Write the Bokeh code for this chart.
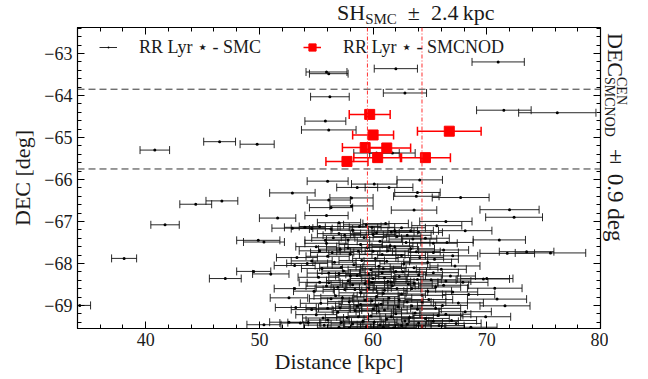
import math
from bokeh.plotting import figure
from bokeh.models import (ColumnDataSource, Span, LinearAxis, Range1d, Legend,
                          LegendItem, FixedTicker, CustomJSTickFormatter, Div)
from bokeh.layouts import column, row
from bokeh.embed import file_html
from bokeh.resources import INLINE

# ---------------- data ----------------
smc_dist = [
    55.9, 56.1, 62.0, 71.0, 56.2, 62.8, 71.5, 76.2, 55.8, 56.1, 46.5, 49.8, 40.8, 60.3, 61.7, 56.0, 64.1,
    52.9, 46.7, 44.4, 56.1, 56.3, 55.9, 51.6, 41.7, 52.9, 54.0, 54.6, 55.3, 57.0, 50.4, 49.9, 55.9, 56.5,
    57.8, 55.3, 56.4, 38.1, 53.3, 54.2, 53.1, 54.6, 49.5, 51.0, 47.0, 53.1, 52.6, 53.2, 54.6, 50.4, 52.6,
    53.6, 54.3, 34.2,
    60.1, 58.6, 61.4, 63.9, 63.8, 67.7, 58.1, 58.1, 63.6, 72.0, 72.4, 66.4, 68.1, 61.6, 63.3, 71.1, 66.5,
    65.3, 73.5, 71.8, 75.6, 60.0, 65.4, 69.7, 70.0, 70.7, 66.4, 71.6, 70.9, 69.9,
    57.0, 58.2, 59.4, 60.3, 61.1, 62.5, 64.0, 65.6, 56.3, 59.9,
    55.8, 57.5, 58.9, 59.2, 60.6, 61.5, 62.1, 62.9, 63.5, 60.0,
    56.0, 57.1, 58.0, 59.5, 60.2, 61.3, 62.5, 63.3, 64.1, 65.3, 66.2,
    55.5, 56.6, 57.4, 58.3, 59.0, 59.8, 60.5, 61.2, 62.0, 62.7, 63.6, 64.8, 66.0, 67.2,
    55.2, 56.1, 57.0, 57.8, 58.6, 59.3, 60.0, 60.8, 61.6, 62.3, 63.1, 64.0, 65.1, 66.8, 67.9,
    54.8, 55.9, 56.7, 57.5, 58.2, 58.9, 59.6, 60.3, 61.0, 61.7, 62.5, 63.4, 64.3, 65.5, 67.0, 68.4,
    55.4, 56.3, 57.1, 57.9, 58.6, 59.3, 60.0, 60.7, 61.4, 62.2, 63.0, 63.9, 64.9, 66.1, 67.5,
    55.0, 56.0, 56.9, 57.7, 58.4, 59.1, 59.8, 60.5, 61.2, 62.0, 62.8, 63.7, 64.6, 65.7, 66.9, 68.1,
    55.7, 57.0, 58.2, 59.4, 60.6, 61.8, 63.0, 64.3, 65.8, 67.3, 68.6,
    58.8, 61.9, 63.0, 57.8, 64.6,
    55.0, 58.7, 60.8, 61.9, 63.8, 67.0,
    56.1, 58.0, 59.6, 61.0, 62.6, 63.9, 65.3, 57.2, 60.9,
    55.3, 56.9, 58.4, 59.9, 60.9, 62.1, 63.6, 64.8, 66.2, 61.3,
    56.0, 57.3, 58.9, 59.9, 61.0, 62.3, 63.4, 64.3, 65.5, 60.3,
    55.6, 57.2, 58.7, 60.1, 61.6, 63.2, 64.0, 65.3, 66.4, 60.9, 62.5, 57.9,
]
smc_dec = [
    -63.44, -63.48, -63.36, -63.20, -64.03, -63.94, -64.35, -64.41, -64.61, -64.82, -65.10, -65.16, -65.30,
    -65.37, -65.37, -66.04, -66.01,
    -66.32, -66.51, -66.59, -66.49, -66.67, -66.86, -66.92, -67.08, -67.16, -67.14, -67.17, -67.12, -67.29,
    -67.49, -67.45, -67.52, -67.39, -67.63, -67.70, -67.74, -67.88, -67.86, -68.00, -68.05, -67.94, -68.19,
    -68.25, -68.36, -68.60, -68.82, -69.05, -69.10, -69.46, -69.40, -69.42, -69.41, -69.00,
    -66.11, -66.19, -66.19, -66.31, -66.40, -66.43, -66.44, -66.63, -66.73, -66.72, -66.90, -67.00, -67.22,
    -67.25, -67.22, -67.44, -67.50, -67.52, -67.72, -67.76, -67.75, -67.71, -67.90, -68.37, -68.36, -68.59,
    -68.42, -69.01, -68.85, -69.27,
    -67.03, -67.21, -67.08, -67.27, -67.05, -67.15, -67.26, -67.10, -67.18, -67.14,
    -67.45, -67.33, -67.55, -67.38, -67.47, -67.58, -67.36, -67.50, -67.42, -67.31,
    -67.83, -67.66, -67.78, -67.62, -67.88, -67.70, -67.81, -67.65, -67.86, -67.74, -67.68,
    -68.12, -67.97, -68.18, -68.03, -67.93, -68.15, -68.07, -67.95, -68.19, -68.01, -68.10, -67.98, -68.14, -68.06,
    -68.33, -68.46, -68.24, -68.41, -68.29, -68.48, -68.36, -68.22, -68.44, -68.31, -68.49, -68.27, -68.39, -68.30, -68.45,
    -68.66, -68.54, -68.77, -68.62, -68.51, -68.70, -68.58, -68.79, -68.64, -68.53, -68.73, -68.60, -68.76, -68.56, -68.68, -68.74,
    -68.95, -68.84, -69.06, -68.91, -69.02, -68.87, -69.08, -68.97, -68.83, -69.04, -68.92, -69.09, -68.86, -69.00, -68.94,
    -69.22, -69.35, -69.16, -69.29, -69.12, -69.38, -69.25, -69.14, -69.33, -69.20, -69.37, -69.18, -69.31, -69.24, -69.36, -69.15,
    -69.47, -69.52, -69.44, -69.50, -69.46, -69.53, -69.45, -69.51, -69.48, -69.43, -69.52,
    -67.12, -67.22, -67.33, -67.44, -67.40,
    -67.60, -67.71, -67.79, -67.60, -67.72, -67.82,
    -68.23, -68.30, -68.26, -68.35, -68.20, -68.38, -68.22, -68.09, -68.12,
    -68.45, -68.57, -68.62, -68.45, -68.71, -68.60, -68.47, -68.66, -68.52, -68.43,
    -69.07, -68.82, -68.98, -68.89, -69.11, -68.88, -69.01, -68.92, -69.07, -69.00,
    -69.30, -69.41, -69.27, -69.40, -69.27, -69.29, -69.42, -69.38, -69.21, -69.52, -69.48, -69.54,
]
smc_err = [
    1.8, 1.7, 1.9, 2.3, 1.7, 1.9, 2.4, 3.4, 1.8, 2.4, 1.4, 1.5, 1.3, 2.0, 2.0, 1.8, 2.0,
    2.0, 1.4, 1.4, 1.9, 1.9, 1.9, 1.6, 1.25, 1.8, 1.8, 1.8, 1.8, 1.9, 1.8, 1.9, 1.9, 1.9,
    1.9, 1.8, 1.9, 1.1, 1.8, 1.8, 1.8, 1.8, 1.5, 1.6, 1.4, 1.8, 1.65, 1.8, 1.8, 1.5, 1.7,
    1.8, 1.8, 0.95,
    2.0, 1.8, 2.1, 2.0, 2.0, 2.5, 1.9, 1.9, 2.0, 2.6, 2.5, 2.3, 2.35, 2.0, 2.0, 2.3, 2.3,
    2.1, 2.4, 2.4, 3.1, 2.0, 2.1, 2.3, 2.3, 2.4, 2.2, 2.2, 2.6, 2.2,
    1.9, 1.9, 2.0, 2.0, 2.0, 2.1, 2.1, 2.2, 1.9, 2.0,
    1.8, 1.9, 1.9, 2.0, 2.0, 2.0, 2.1, 2.1, 2.1, 2.0,
    1.9, 1.9, 1.9, 2.0, 2.0, 2.0, 2.1, 2.1, 2.1, 2.2, 2.2,
    1.8, 1.9, 1.9, 1.9, 2.0, 2.0, 2.0, 2.0, 2.1, 2.1, 2.1, 2.1, 2.2, 2.2,
    1.8, 1.9, 1.9, 1.9, 1.9, 2.0, 2.0, 2.0, 2.0, 2.1, 2.1, 2.1, 2.2, 2.2, 2.2,
    1.8, 1.8, 1.9, 1.9, 1.9, 1.9, 2.0, 2.0, 2.0, 2.0, 2.1, 2.1, 2.1, 2.2, 2.2, 2.3,
    1.8, 1.9, 1.9, 1.9, 1.9, 2.0, 2.0, 2.0, 2.0, 2.1, 2.1, 2.1, 2.1, 2.2, 2.2,
    1.8, 1.9, 1.9, 1.9, 1.9, 2.0, 2.0, 2.0, 2.0, 2.1, 2.1, 2.1, 2.1, 2.2, 2.2, 2.3,
    1.8, 1.9, 1.9, 2.0, 2.0, 2.0, 2.1, 2.1, 2.2, 2.2, 2.3,
    1.9, 2.0, 2.1, 1.9, 2.1,
    1.8, 1.9, 2.0, 2.0, 2.1, 2.2,
    1.9, 1.9, 2.0, 2.0, 2.1, 2.1, 2.2, 1.9, 2.0,
    1.8, 1.9, 1.9, 2.0, 2.0, 2.1, 2.1, 2.1, 2.2, 2.0,
    1.9, 1.9, 1.9, 2.0, 2.0, 2.1, 2.1, 2.1, 2.2, 2.0,
    1.8, 1.9, 1.9, 2.0, 2.0, 2.1, 2.1, 2.2, 2.2, 2.0, 2.1, 1.9,
]

nod_dist = [59.7, 60.0, 66.7, 59.3, 61.2, 60.4, 64.6, 57.7]
nod_dec = [-64.45, -64.94, -64.85, -65.24, -65.25, -65.48, -65.48, -65.57]
nod_err = [1.8, 1.8, 2.8, 2.0, 2.1, 2.1, 2.2, 1.85]

sh_center, sh_half = 61.9, 2.4          # kpc
dec_center, dec_half = -64.8, 0.95      # deg

x_ticks = [40, 50, 60, 70, 80]
y_ticks = [-69, -68, -67, -66, -65, -64, -63]

# ---------------- layout ----------------
X0, X1 = 34.0, 80.0
Y0, Y1 = -69.55, -62.38
FL, FW, FH = 77, 523, 301        # frame left / width / height (px)
TOP_DIV_H = 25
P_TOP, P_RIGHT, P_BOTTOM = 2, 8, 51
P_W = FL + FW + P_RIGHT          # 608
P_H = P_TOP + FH + P_BOTTOM      # 354
RIGHT_DIV_W = 648 - P_W
SERIF = "Liberation Serif"
INK = "#1a1a1a"

p = figure(width=P_W, height=P_H, x_range=Range1d(X0, X1), y_range=Range1d(Y0, Y1),
           output_backend="svg", toolbar_location=None,
           min_border_left=FL, min_border_right=P_RIGHT,
           min_border_top=P_TOP, min_border_bottom=P_BOTTOM)
p.xgrid.visible = False
p.ygrid.visible = False
p.outline_line_color = "black"
p.outline_line_width = 1.2
p.background_fill_color = "white"
p.border_fill_color = "white"

minus_fmt = CustomJSTickFormatter(code="return (tick < 0 ? '\u2212' : '') + Math.abs(tick).toFixed(0);")
blank_fmt = CustomJSTickFormatter(code="return '';")

x_minor = [34 + 2 * i for i in range(24)]
y_minor = [round(-69.6 + 0.2 * i, 1) for i in range(37)]
xt = FixedTicker(ticks=x_ticks, minor_ticks=x_minor)
yt = FixedTicker(ticks=y_ticks, minor_ticks=y_minor)

def style_axis(ax):
    ax.major_tick_in = 7
    ax.major_tick_out = 0
    ax.minor_tick_in = 4
    ax.minor_tick_out = 0
    ax.axis_line_color = "black"
    ax.major_tick_line_color = "black"
    ax.minor_tick_line_color = "black"
    ax.major_label_text_font = SERIF
    ax.major_label_text_font_size = "18px"
    ax.major_label_text_color = INK
    ax.axis_label_text_font = SERIF
    ax.axis_label_text_font_size = "22px"
    ax.axis_label_text_font_style = "normal"
    ax.axis_label_text_color = INK

xb = p.xaxis[0]
yl = p.yaxis[0]
xb.ticker = xt
yl.ticker = yt
xb.formatter = minus_fmt
yl.formatter = minus_fmt
xb.axis_label = "Distance [kpc]"
yl.axis_label = "DEC [deg]"
style_axis(xb)
style_axis(yl)
xb.major_label_standoff = 4
xb.axis_label_standoff = 0
yl.major_label_standoff = 5
yl.axis_label_standoff = 6

xtop = LinearAxis(ticker=xt, formatter=blank_fmt)
yright = LinearAxis(ticker=yt, formatter=blank_fmt)
for ax in (xtop, yright):
    style_axis(ax)
    ax.major_label_standoff = 0
    ax.major_label_text_font_size = "0px"
p.add_layout(xtop, "above")
p.add_layout(yright, "right")

# ---------------- reference lines ----------------
for v in (dec_center + dec_half, dec_center - dec_half):
    p.add_layout(Span(location=v, dimension="width", line_color="#333333",
                      line_width=1, line_dash="7 4"))
for v in (sh_center - sh_half, sh_center + sh_half):
    p.add_layout(Span(location=v, dimension="height", line_color="#ff3030",
                      line_width=1, line_dash="4 2 1 2"))

# ---------------- data glyphs ----------------
smc = ColumnDataSource(dict(
    x=smc_dist, y=smc_dec,
    lo=[d - e for d, e in zip(smc_dist, smc_err)],
    hi=[d + e for d, e in zip(smc_dist, smc_err)]))
nod = ColumnDataSource(dict(
    x=nod_dist, y=nod_dec,
    lo=[d - e for d, e in zip(nod_dist, nod_err)],
    hi=[d + e for d, e in zip(nod_dist, nod_err)]))

s_seg = p.segment(x0="lo", y0="y", x1="hi", y1="y", source=smc, line_color="#111111", line_width=0.9)
p.scatter(x="lo", y="y", source=smc, marker="dash", angle=math.pi / 2, size=8,
          line_color="#111111", line_width=0.9)
p.scatter(x="hi", y="y", source=smc, marker="dash", angle=math.pi / 2, size=8,
          line_color="#111111", line_width=0.9)
s_dot = p.scatter(x="x", y="y", source=smc, marker="dot", size=12,
                  fill_color="black", line_color="black")

n_seg = p.segment(x0="lo", y0="y", x1="hi", y1="y", source=nod, line_color="#ff0000", line_width=1.5)
p.scatter(x="lo", y="y", source=nod, marker="dash", angle=math.pi / 2, size=9,
          line_color="#ff0000", line_width=1.5)
p.scatter(x="hi", y="y", source=nod, marker="dash", angle=math.pi / 2, size=9,
          line_color="#ff0000", line_width=1.5)
n_sq = p.scatter(x="x", y="y", source=nod, marker="square", size=10,
                 fill_color="#ff0000", line_color="#ff0000")

legend = Legend(items=[LegendItem(label="RR Lyr \u22c6 - SMC", renderers=[s_seg, s_dot]),
                       LegendItem(label="RR Lyr \u22c6 - SMCNOD", renderers=[n_seg, n_sq])],
                orientation="horizontal", location=(22, FH - 11 - 20),
                border_line_color=None, background_fill_alpha=0,
                label_text_font=SERIF, label_text_font_size="18px", label_text_color=INK,
                glyph_width=18, glyph_height=22, label_standoff=22, spacing=42,
                padding=0, margin=0)
p.add_layout(legend)

# ---------------- outside texts (HTML, so sub/superscripts stay real text) ----------------
base = f"font-family:'{SERIF}',serif;color:{INK};white-space:nowrap;position:absolute;"
top_html = (
    f"<div style='position:relative;width:648px;height:{TOP_DIV_H}px;overflow:visible;'>"
    f"<span style=\"{base}left:337px;top:2px;font-size:22px;line-height:22px;\">"
    "SH<span style='font-size:15px;position:relative;top:4px;'>SMC</span>"
    "&ensp;\u00b1&ensp;2.4&thinsp;kpc</span></div>"
)
vert = base + "writing-mode:vertical-rl;"
right_html = (
    f"<div style='position:relative;width:{RIGHT_DIV_W}px;height:{P_H}px;overflow:visible;'>"
    f"<span style=\"{vert}left:-4px;top:8px;font-size:22px;line-height:22px;\">DEC</span>"
    f"<span style=\"{vert}left:6px;top:52px;font-size:14px;line-height:14px;\">CEN</span>"
    f"<span style=\"{vert}left:-6px;top:52px;font-size:14px;line-height:14px;\">SMCNOD</span>"
    f"<span style=\"{vert}left:-4px;top:118px;font-size:23px;line-height:23px;\">"
    "\u00b1 0.9 deg</span></div>"
)
top_div = Div(text=top_html, width=648, height=TOP_DIV_H, margin=0, styles={"overflow": "visible"})
right_div = Div(text=right_html, width=RIGHT_DIV_W, height=P_H, margin=0, styles={"overflow": "visible"})

layout = column(top_div, row(p, right_div, spacing=0), spacing=0)

open("out.html", "w").write(file_html(layout, INLINE))
